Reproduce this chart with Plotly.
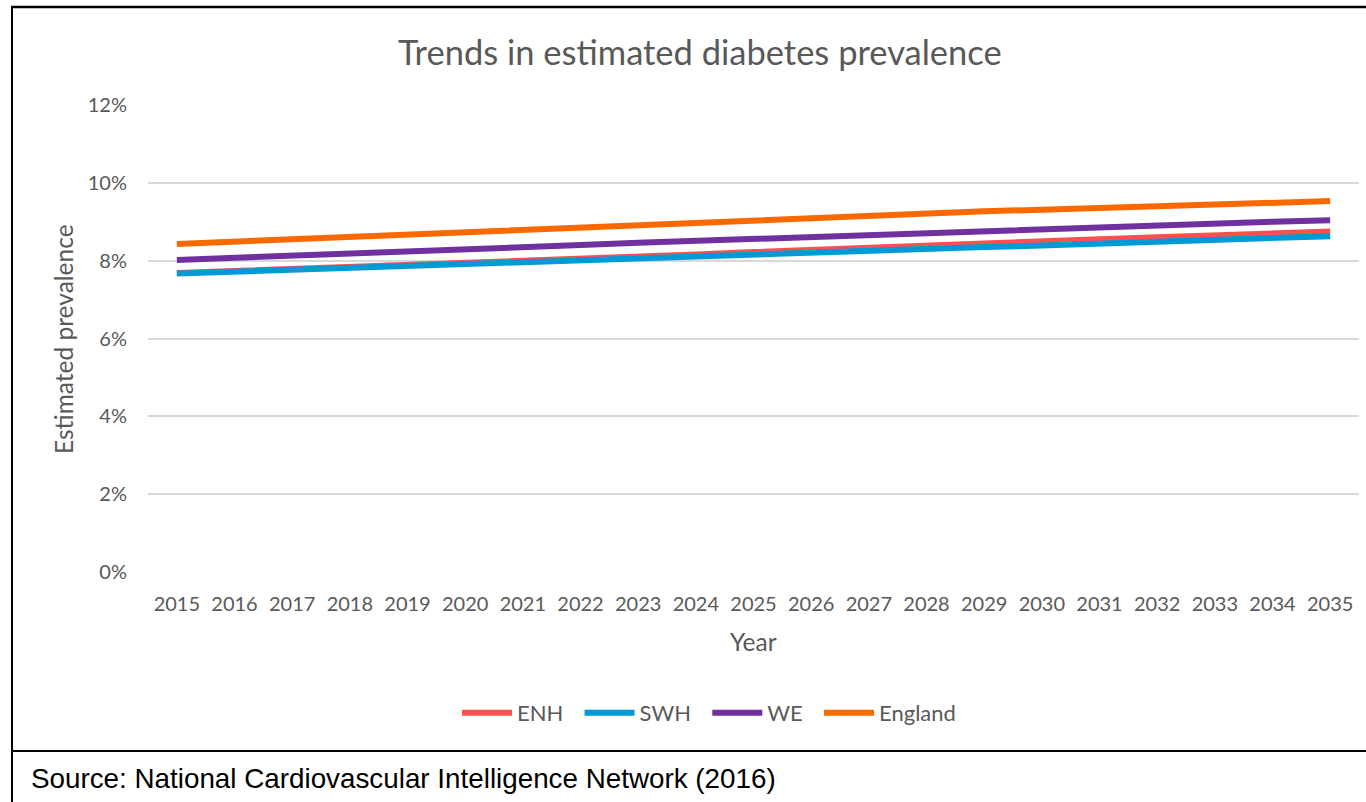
import plotly.graph_objects as go

years = list(range(2015, 2036))
enh = [7.68, 7.73, 7.79, 7.84, 7.89, 7.94, 7.99, 8.04, 8.10, 8.16, 8.22, 8.28, 8.34, 8.40, 8.45, 8.50, 8.55, 8.60, 8.65, 8.70, 8.75]
swh = [7.67, 7.72, 7.77, 7.83, 7.88, 7.93, 7.98, 8.02, 8.07, 8.12, 8.16, 8.21, 8.26, 8.30, 8.35, 8.39, 8.44, 8.48, 8.53, 8.58, 8.63]
we = [8.02, 8.07, 8.12, 8.17, 8.23, 8.29, 8.34, 8.40, 8.46, 8.51, 8.57, 8.62, 8.68, 8.72, 8.77, 8.81, 8.85, 8.90, 8.95, 9.00, 9.04]
england = [8.43, 8.49, 8.55, 8.61, 8.67, 8.73, 8.80, 8.87, 8.94, 9.00, 9.06, 9.11, 9.17, 9.22, 9.27, 9.31, 9.36, 9.40, 9.44, 9.49, 9.53]
y_ticks = [0, 2, 4, 6, 8, 10, 12]
y_ticktext = ["0%", "2%", "4%", "6%", "8%", "10%", "12%"]

series = [("ENH", enh, "#FF5050"), ("SWH", swh, "#009BD7"),
          ("WE", we, "#7030A0"), ("England", england, "#FA6800")]

W, H = 1366, 802
def px(x):
    return x / W
def py(y):
    return 1 - y / H

pad = "\u00a0\u00a0"
fig = go.Figure()
for i, (name, vals, col) in enumerate(series):
    label = name + (pad if i < len(series) - 1 else "")
    fig.add_trace(go.Scatter(x=years, y=vals, name=label, mode="lines",
                             line=dict(color=col, width=6)))

gray = "#595959"
font = "Lato, Open Sans, sans-serif"

fig.update_layout(
    width=W, height=H,
    margin=dict(l=0, r=0, t=0, b=0),
    paper_bgcolor="white", plot_bgcolor="white",
    font=dict(family=font, color=gray, size=20),
    showlegend=True,
    legend=dict(orientation="h", x=px(709), xanchor="center", y=py(713), yanchor="middle",
                font=dict(family=font, size=22, color=gray), itemwidth=50,
                bgcolor="rgba(0,0,0,0)"),
    xaxis=dict(domain=[px(148), px(1359)], range=[2014.5, 2035.5],
               tickvals=years, ticktext=[str(y) for y in years],
               showgrid=False, zeroline=False, showline=False,
               tickfont=dict(family=font, size=20, color=gray),
               ticks="", ticklabelstandoff=18, automargin=False, fixedrange=True),
    yaxis=dict(domain=[py(572), py(105)], range=[0, 12],
               tickvals=y_ticks, ticktext=y_ticktext,
               showgrid=True, gridcolor="#D9D9D9", gridwidth=1.5,
               zeroline=False, showline=False,
               tickfont=dict(family=font, size=20, color=gray),
               ticks="", ticklabelstandoff=20, automargin=False, fixedrange=True),
    annotations=[
        dict(text="Trends in estimated diabetes prevalence", x=px(700), y=py(52),
             xref="paper", yref="paper", showarrow=False, xanchor="center", yanchor="middle",
             font=dict(family=font, size=34.5, color=gray)),
        dict(text="Year", x=px(753), y=py(641), xref="paper", yref="paper",
             showarrow=False, xanchor="center", yanchor="middle",
             font=dict(family=font, size=24.5, color=gray)),
        dict(text="Estimated prevalence", x=px(63), y=py(339), xref="paper", yref="paper",
             showarrow=False, xanchor="center", yanchor="middle", textangle=-90,
             font=dict(family=font, size=24.5, color=gray)),
        dict(text="Source: National Cardiovascular Intelligence Network (2016)",
             x=px(29), y=py(778), xref="paper", yref="paper", showarrow=False,
             xanchor="left", yanchor="middle",
             font=dict(family="Liberation Sans, Arial, sans-serif", size=27.8, color="black")),
    ],
    shapes=[
        dict(type="line", xref="paper", yref="paper", x0=px(11), x1=1, y0=py(7), y1=py(7),
             line=dict(color="black", width=2.5)),
        dict(type="line", xref="paper", yref="paper", x0=px(12), x1=px(12), y0=py(6), y1=0,
             line=dict(color="black", width=2)),
        dict(type="line", xref="paper", yref="paper", x0=px(12), x1=1, y0=py(751), y1=py(751),
             line=dict(color="black", width=2)),
    ],
)

fig.write_html("out.html")
